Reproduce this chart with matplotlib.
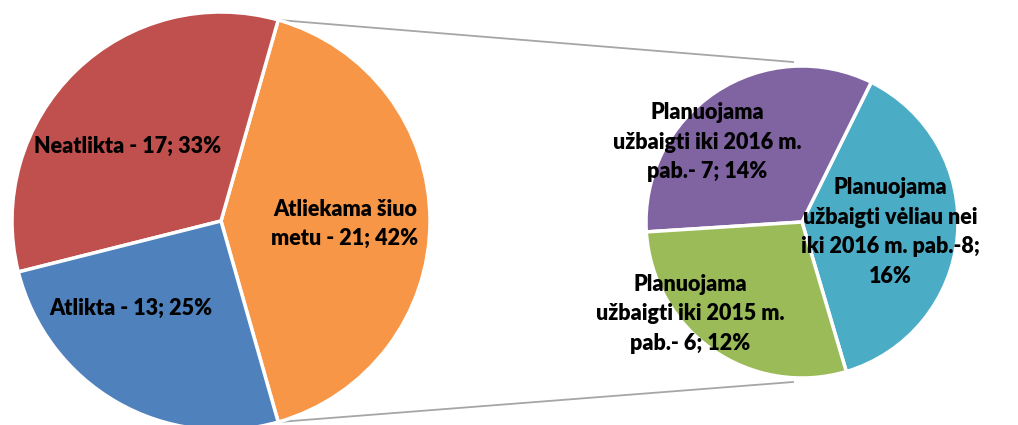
import matplotlib
matplotlib.use('Agg')
import matplotlib.pyplot as plt
import numpy as np

plt.rcParams['font.family'] = ['Lato', 'DejaVu Sans']

# Pagrindinis skritulys
main_labels = ['Atliekama šiuo\nmetu - 21; 42%', 'Neatlikta - 17; 33%', 'Atlikta - 13; 25%']
main_values = [21, 17, 13]
main_colors = ['#F79646', '#C0504D', '#4F81BD']

# Antrinis skritulys (išskaidyta "Atliekama šiuo metu")
sub_labels = ['Planuojama\nužbaigti vėliau nei\niki 2016 m. pab.-8;\n16%',
              'Planuojama\nužbaigti iki 2016 m.\npab.- 7; 14%',
              'Planuojama\nužbaigti iki 2015 m.\npab.- 6; 12%']
sub_values = [8, 7, 6]
sub_colors = ['#4BACC6', '#8064A2', '#9BBB59']

W, H = 1018, 425
fig = plt.figure(figsize=(W / 100, H / 100), dpi=100)
ax = fig.add_axes([0, 0, 1, 1])

c1, r1 = (221, H - 221), 209
c2, r2 = (802, H - 222), 156

start1 = -main_values[0] / sum(main_values) * 180
w1, _ = ax.pie(main_values, colors=main_colors, center=c1, radius=r1,
               startangle=start1, counterclock=True, frame=True,
               wedgeprops=dict(edgecolor='white', linewidth=2.5))
w2, _ = ax.pie(sub_values, colors=sub_colors, center=c2, radius=r2,
               startangle=-73.5, counterclock=True, frame=True,
               wedgeprops=dict(edgecolor='white', linewidth=2.5))
ax.set_xlim(0, W)
ax.set_ylim(0, H)
ax.set_aspect('equal')
ax.axis('off')

# Jungiamosios linijos
a_top = np.deg2rad(w1[0].theta2)
a_bot = np.deg2rad(w1[0].theta1)
p_top = (c1[0] + r1 * np.cos(a_top), c1[1] + r1 * np.sin(a_top))
p_bot = (c1[0] + r1 * np.cos(a_bot), c1[1] + r1 * np.sin(a_bot))
q_top = (c2[0] - 9, c2[1] + r2 + 4)
q_bot = (c2[0] - 9, c2[1] - r2 - 4)
ax.plot([p_top[0], q_top[0]], [p_top[1], q_top[1]], color='#A6A6A6', lw=1.3, zorder=0)
ax.plot([p_bot[0], q_bot[0]], [p_bot[1], q_bot[1]], color='#A6A6A6', lw=1.3, zorder=0)

fs = 15.5
txt = dict(ha='center', va='center', fontsize=fs, fontweight='heavy', color='black',
           linespacing=1.5)
main_pos = [(345, H - 224), (128, H - 146), (131, H - 308)]
sub_pos = [(890, H - 232), (707, H - 142), (690, H - 314)]
for lab, pos in zip(main_labels, main_pos):
    ax.text(pos[0], pos[1], lab, **txt)
for lab, pos in zip(sub_labels, sub_pos):
    ax.text(pos[0], pos[1], lab, **txt)

plt.savefig('out.png', dpi=100)
plt.close()
